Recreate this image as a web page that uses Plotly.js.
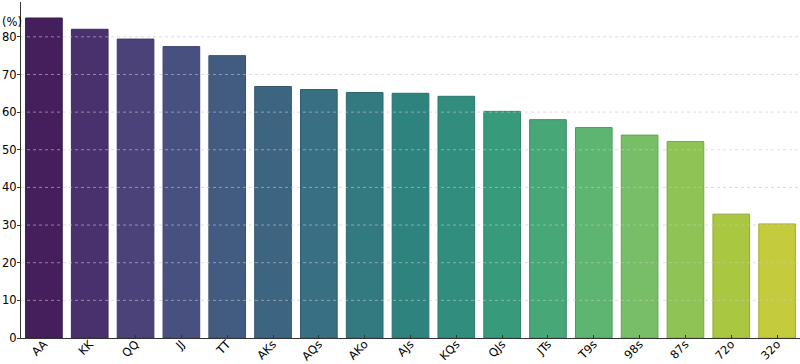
<!DOCTYPE html>
<html>
<head>
<meta charset="utf-8">
<script src="https://cdn.plot.ly/plotly-3.0.1.min.js"></script>
<style>html,body{margin:0;padding:0;background:#fff;}#chart{width:800px;height:364px;}</style>
</head>
<body>
<div id="chart"></div>
<script>
const hands = ["AA","KK","QQ","JJ","TT","AKs","AQs","AKo","AJs","KQs","QJs","JTs","T9s","98s","87s","72o","32o"];
const winPct = [85, 82, 79.4, 77.4, 75, 66.8, 66, 65.2, 65, 64.2, 60.2, 58, 55.9, 53.9, 52.2, 32.9, 30.3];
const yTicks = [0, 10, 20, 30, 40, 50, 60, 70, 80];

// viridis anchors (style only)
const vir = ["#440154","#482475","#414487","#355f8d","#2a788e","#21918c","#22a884","#44bf70","#7ad151","#bddf26","#fde725"];
function hex2rgb(h){return [parseInt(h.slice(1,3),16),parseInt(h.slice(3,5),16),parseInt(h.slice(5,7),16)];}
function viridis(t){
  const p=t*10, i=Math.min(9,Math.floor(p)), f=p-i;
  const a=hex2rgb(vir[i]), b=hex2rgb(vir[i+1]);
  return a.map((v,k)=>(v+(b[k]-v)*f)/255);
}
function rgb2hls(r,g,b){
  const mx=Math.max(r,g,b), mn=Math.min(r,g,b), l=(mx+mn)/2;
  if(mx===mn) return [0,l,0];
  const d=mx-mn, s = l<=0.5 ? d/(mx+mn) : d/(2-mx-mn);
  let h;
  if(mx===r) h=((g-b)/d)%6; else if(mx===g) h=(b-r)/d+2; else h=(r-g)/d+4;
  h/=6; if(h<0) h+=1;
  return [h,l,s];
}
function hue2(m1,m2,h){h=((h%1)+1)%1; if(h<1/6) return m1+(m2-m1)*h*6; if(h<0.5) return m2; if(h<2/3) return m1+(m2-m1)*(2/3-h)*6; return m1;}
function hls2rgb(h,l,s){
  if(s===0) return [l,l,l];
  const m2 = l<=0.5 ? l*(1+s) : l+s-l*s, m1=2*l-m2;
  return [hue2(m1,m2,h+1/3),hue2(m1,m2,h),hue2(m1,m2,h-1/3)];
}
function toCss(c,dark){return "rgb("+c.map(v=>Math.round(Math.max(0,Math.min(1,v*dark))*255)).join(",")+")";}
const n=hands.length;
const fills=[], edges=[];
for(let i=0;i<n;i++){
  const c=viridis((i+1)/(n+1));
  const hls=rgb2hls(...c);
  const d=hls2rgb(hls[0],hls[1],hls[2]*0.75);
  fills.push(toCss(d,1));
  edges.push(toCss(d,0.85));
}

const trace={
  type:"bar", x:hands, y:winPct, width:0.8,
  marker:{color:fills, line:{color:edges, width:1}},
  hoverinfo:"x+y"
};
const gridShapes = yTicks.filter(v=>v>0).map(v=>({
  type:"line", xref:"paper", yref:"y", x0:0, x1:1, y0:v, y1:v,
  line:{color:"rgba(200,200,200,0.6)", width:1, dash:"dot"}, layer:"above"
}));
const layout={
  width:800, height:364,
  margin:{l:21, r:0, t:2, b:26},
  paper_bgcolor:"#fff", plot_bgcolor:"#fff",
  showlegend:false, bargap:0.2,
  font:{family:"DejaVu Sans, sans-serif", size:11, color:"#000"},
  xaxis:{
    range:[-0.5,16.5], tickangle:-45, showgrid:false,
    showline:true, linecolor:"#333", linewidth:1,
    ticks:"inside", ticklen:3, tickcolor:"#333",
    tickfont:{size:11.5}, ticklabelstandoff:-6, fixedrange:true
  },
  yaxis:{
    range:[0,89.25], tickvals:yTicks, ticktext:yTicks.map(String),
    showgrid:false,
    showline:true, linecolor:"#333", linewidth:1,
    ticks:"outside", ticklen:3, tickcolor:"#333",
    tickfont:{size:11.5}, ticklabelstandoff:-2, zeroline:false, fixedrange:true
  },
  shapes: gridShapes,
  annotations:[{
    text:"(%)", xref:"paper", yref:"paper", x:-21/779, y:0.94, xanchor:"left", yanchor:"middle",
    showarrow:false, font:{size:11.5, color:"#000"}
  }]
};
Plotly.newPlot("chart",[trace],layout,{displayModeBar:false, staticPlot:true});
</script>
</body>
</html>
